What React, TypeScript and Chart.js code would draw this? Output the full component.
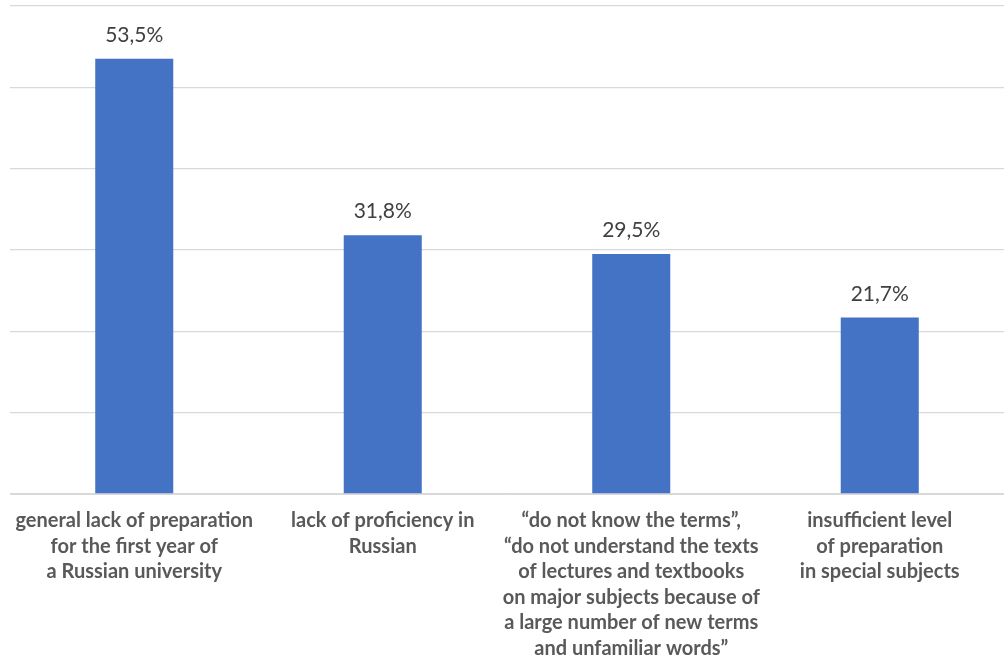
import React, { useEffect, useRef } from "react";
import { Chart, registerables } from "chart.js";

Chart.register(...registerables);

const categories: string[][] = [
  ["general lack of preparation", "for the first year of", "a Russian university"],
  ["lack of proficiency in", "Russian"],
  [
    "\u201cdo not know the terms\u201d,",
    "\u201cdo not understand the texts",
    "of lectures and textbooks",
    "on major subjects because of",
    "a large number of new terms",
    "and unfamiliar words\u201d",
  ],
  ["insufficient level", "of preparation", "in special subjects"],
];
const values: number[] = [53.5, 31.8, 29.5, 21.7];
const yMax = 60;
const yStep = 10;

const FONT = "Lato, 'Open Sans', sans-serif";

const valueLabels = {
  id: "valueLabels",
  afterDatasetsDraw(chart: any) {
    const ctx = chart.ctx;
    const meta = chart.getDatasetMeta(0);
    ctx.save();
    ctx.font = `400 21px ${FONT}`;
    ctx.fillStyle = "#404040";
    ctx.textAlign = "center";
    ctx.textBaseline = "alphabetic";
    meta.data.forEach((bar: any, i: number) => {
      const txt = values[i].toFixed(1).replace(".", ",") + "%";
      ctx.fillText(txt, bar.x, bar.y - 17);
    });
    ctx.restore();
  },
};

export default function App() {
  const ref = useRef<HTMLCanvasElement>(null);
  useEffect(() => {
    document.body.style.margin = "0";
    const chart = new Chart(ref.current!, {
      type: "bar",
      data: {
        labels: categories,
        datasets: [
          {
            data: values,
            backgroundColor: "#4472c4",
            categoryPercentage: 1,
            barPercentage: 0.314,
          },
        ],
      },
      options: {
        responsive: false,
        animation: false,
        layout: { padding: { left: 10, top: 6, right: 0, bottom: 0 } },
        plugins: { legend: { display: false }, tooltip: { enabled: false } },
        scales: {
          x: {
            grid: { display: false, drawTicks: false },
            border: { display: true, color: "#d9d9d9", width: 1 },
            ticks: {
              color: "#595959",
              font: { family: FONT, size: 20, weight: "bold", lineHeight: 1.275 },
              padding: 14,
              maxRotation: 0,
              autoSkip: false,
            },
            afterFit(scale: any) {
              scale.height = 169;
            },
          },
          y: {
            min: 0,
            max: yMax,
            ticks: { display: false, stepSize: yStep },
            grid: { color: "#d9d9d9", lineWidth: 1.3, drawTicks: false },
            border: { display: false },
            afterFit(scale: any) {
              scale.width = 0;
            },
          },
        },
      },
      plugins: [valueLabels],
    });
    return () => chart.destroy();
  }, []);
  return (
    <div style={{ position: "absolute", left: 0, top: 0, width: 1004, height: 663 }}>
      <canvas ref={ref} width={1004} height={663} />
    </div>
  );
}
